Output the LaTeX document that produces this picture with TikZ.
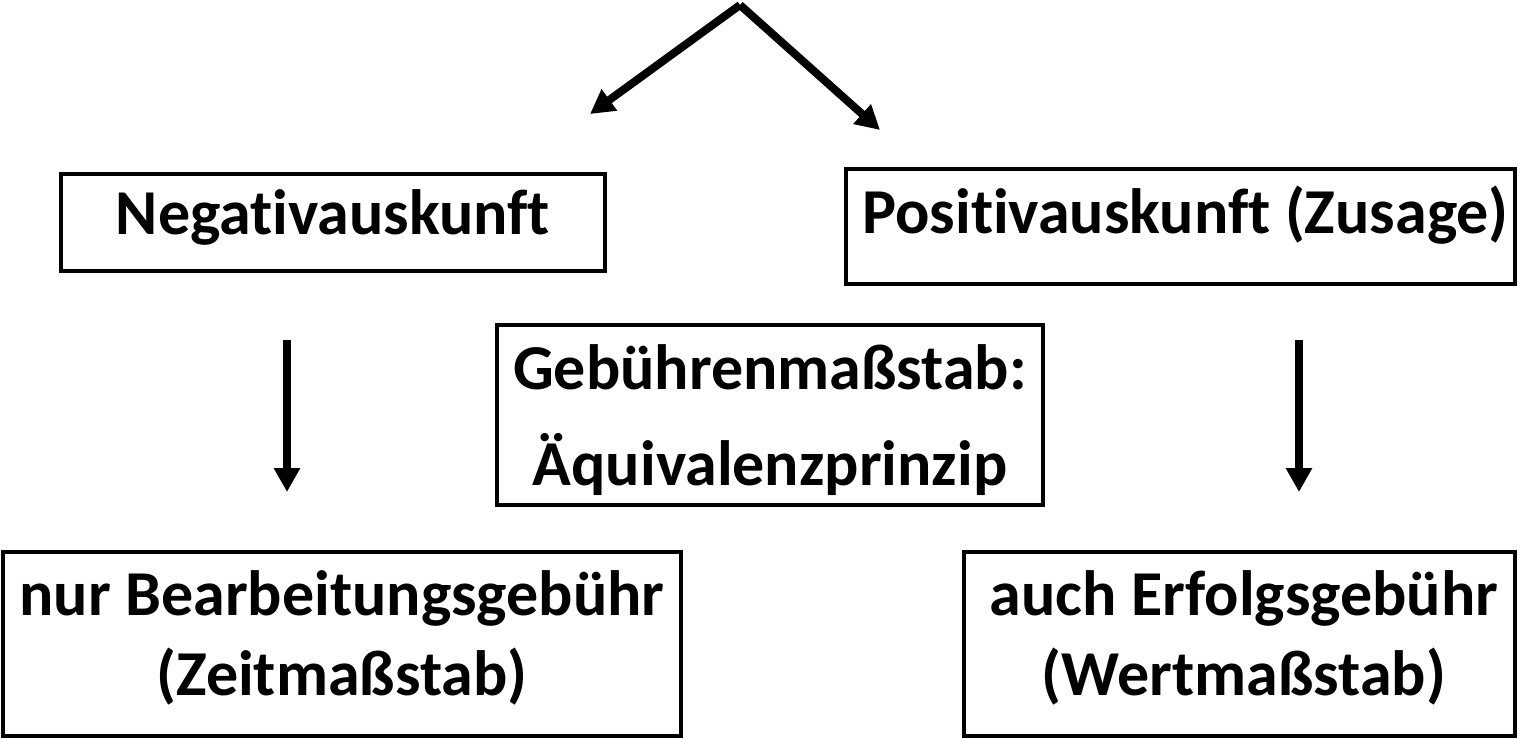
\documentclass[tikz,border=0pt]{standalone}
\usepackage{fontspec}
\setmainfont[Ligatures=NoCommon]{Carlito}
\usetikzlibrary{arrows.meta}
\begin{document}
\begin{tikzpicture}[x=0.5pt,y=-0.5pt,
  box/.style={draw=black,line width=1.6pt,inner sep=0pt},
  lbl/.style={inner sep=0pt,font=\bfseries\fontsize{32}{40}\selectfont},
  arr/.style={line width=4pt,-{Triangle[length=12pt,width=12.5pt]}}]
\useasboundingbox (0,0) rectangle (1532,738);
\node[box,minimum width=272pt,minimum height=48.5pt] (neg) at (333,222.5) {};
\node[lbl] (negt) at (333,217) {Negativauskunft};
\node[box,minimum width=334.5pt,minimum height=57.5pt] (pos) at (1180.5,226.5) {};
\node[lbl] (post) at (1185.5,215) {Positivauskunft (Zusage)};
\node[box,minimum width=273pt,minimum height=90pt] (geb) at (770,415) {};
\node[lbl] (geb1) at (770,367) {Gebührenmaßstab:};
\node[lbl] (geb2) at (770,464) {Äquivalenzprinzip};
\node[box,minimum width=339pt,minimum height=92pt] (nur) at (342,644) {};
\node[lbl] (nur1) at (342,598) {nur Bearbeitungsgebühr};
\node[lbl] (nur2) at (342,677) {(Zeitmaßstab)};
\node[box,minimum width=275.5pt,minimum height=92pt] (auch) at (1239.5,644) {};
\node[lbl] (auch1) at (1244,598) {auch Erfolgsgebühr};
\node[lbl] (auch2) at (1244,677) {(Wertmaßstab)};
\coordinate (apex) at (740,5);
\coordinate (lend) at (590,114);
\coordinate (rend) at (880,130);
\coordinate (ls) at (287,340);
\coordinate (le) at (287,492);
\coordinate (rs) at (1299,340);
\coordinate (re) at (1299,492);
\draw[arr] (apex) -- (lend);
\draw[arr] (apex) -- (rend);
\draw[arr] (ls) -- (le);
\draw[arr] (rs) -- (re);
\end{tikzpicture}
\end{document}
